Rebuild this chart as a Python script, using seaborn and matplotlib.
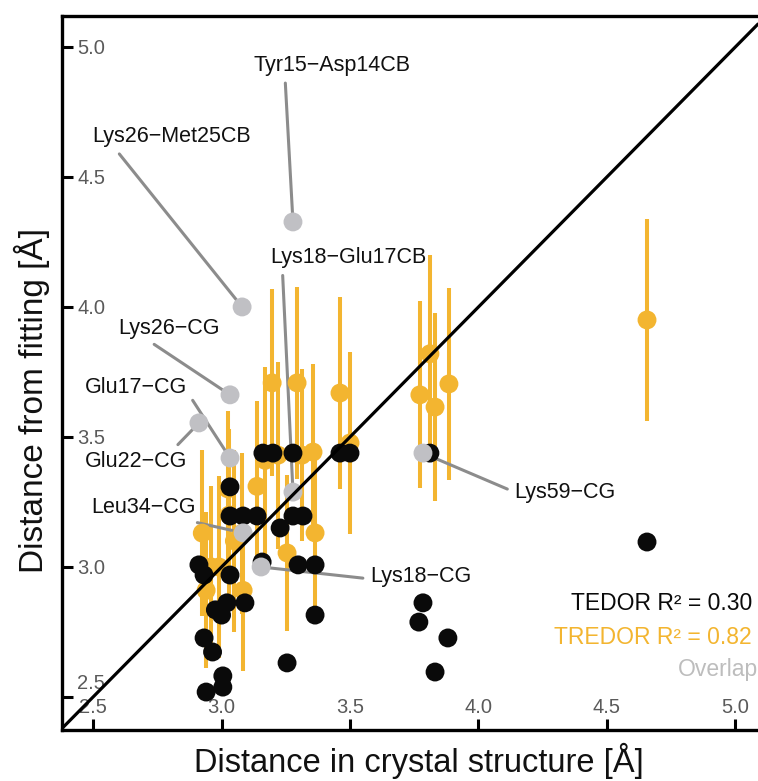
import numpy as np
import pandas as pd
import matplotlib
matplotlib.use("Agg")
import matplotlib.pyplot as plt
import matplotlib.transforms as mtransforms
import seaborn as sns

# ---------------- data ----------------
tedor_x = [2.912, 2.932, 3.033, 3.033, 3.033, 3.084, 3.138, 3.228, 3.278, 3.317,
           3.161, 3.200, 3.278, 3.461, 3.500, 3.298, 3.364, 3.364, 2.976, 3.000,
           3.021, 3.091, 2.932, 2.965, 3.255, 3.005, 3.005, 2.940, 3.784, 3.768,
           3.881, 3.831, 4.656, 3.811, 3.158]
tedor_y = [3.008, 2.969, 2.969, 3.308, 3.196, 3.196, 3.196, 3.150, 3.196, 3.196,
           3.438, 3.438, 3.438, 3.438, 3.438, 3.008, 3.008, 2.815, 2.835, 2.815,
           2.862, 2.862, 2.727, 2.673, 2.631, 2.581, 2.538, 2.519, 2.862, 2.788,
           2.727, 2.596, 3.096, 3.438, 3.019]

tredor_x = [3.772, 3.811, 3.831, 3.885, 4.656,
            3.138, 3.170, 3.197, 3.220, 3.294, 3.313, 3.356, 3.461, 3.500, 3.025,
            3.255, 3.364, 3.084, 3.080, 2.925, 2.940, 2.960, 2.990, 3.030, 3.050]
tredor_y = [3.662, 3.820, 3.615, 3.704, 3.950,
            3.310, 3.410, 3.708, 3.430, 3.708, 3.430, 3.442, 3.669, 3.477, 3.300,
            3.054, 3.131, 2.910, 3.130, 3.130, 2.910, 3.000, 3.000, 3.200, 3.100]
tredor_err = [0.36, 0.38, 0.36, 0.37, 0.39,
              0.33, 0.36, 0.36, 0.36, 0.37, 0.33, 0.34, 0.37, 0.35, 0.30,
              0.30, 0.29, 0.31, 0.31, 0.32, 0.30, 0.31, 0.35, 0.33, 0.35]

overlap_labels = ["Tyr15\u2212Asp14CB", "Lys26\u2212Met25CB", "Lys26\u2212CG",
                  "Glu17\u2212CG", "Glu22\u2212CG", "Leu34\u2212CG",
                  "Lys18\u2212Glu17CB", "Lys18\u2212CG", "Lys59\u2212CG"]
overlap_x = [3.278, 3.080, 3.033, 3.033, 2.912, 3.084, 3.278, 3.154, 3.784]
overlap_y = [4.327, 4.000, 3.662, 3.419, 3.554, 3.131, 3.288, 3.000, 3.438]

r2_tedor = 0.30
r2_tredor = 0.82

xticks = [2.5, 3.0, 3.5, 4.0, 4.5, 5.0]
yticks = [2.5, 3.0, 3.5, 4.0, 4.5, 5.0]

# ---------------- layout / style ----------------
label_pos = [(3.430, 4.930), (2.804, 4.654), (2.796, 3.918), (2.667, 3.690),
             (2.667, 3.406), (2.695, 3.227), (3.492, 4.190), (3.776, 2.962),
             (4.337, 3.288)]
label_rel = [(0.20, 0.0), (0.14, 0.0), (0.27, 0.0), (1.0, 0.3), (0.85, 1.0),
             (0.84, 0.0), (0.08, 0.0), (0.0, 0.4), (0.0, 0.5)]

ORANGE = "#F3B530"
BLACK = "#0a0a0a"
GRAY = "#C0C0C4"
LINEGRAY = "#8C8C8C"

sns.set_style("ticks")
plt.rcParams["font.family"] = ["Liberation Sans", "DejaVu Sans"]

fig = plt.figure(figsize=(7.58, 7.81), dpi=100)
ax = fig.add_axes([62 / 758, 51 / 781, 696 / 758, 714 / 781])

ax.errorbar(tredor_x, tredor_y, yerr=tredor_err, fmt="none", ecolor=ORANGE,
            elinewidth=2.9, capsize=0, zorder=2)

df = pd.concat([
    pd.DataFrame({"x": tredor_x, "y": tredor_y, "series": "TREDOR"}),
    pd.DataFrame({"x": tedor_x, "y": tedor_y, "series": "TEDOR"}),
    pd.DataFrame({"x": overlap_x, "y": overlap_y, "series": "Overlap"}),
], ignore_index=True)

sns.scatterplot(data=df, x="x", y="y", hue="series",
                palette={"TREDOR": ORANGE, "TEDOR": BLACK, "Overlap": GRAY},
                s=185, linewidth=0, legend=False, ax=ax, zorder=3)

ax.axline((2.5, 2.5), slope=1, color="black", lw=2.3, zorder=4)

for lab, px, py, tp, rp in zip(overlap_labels, overlap_x, overlap_y, label_pos, label_rel):
    ax.annotate(lab, xy=(px, py), xytext=tp, textcoords="data",
                ha="center", va="center", fontsize=15.5, color="#111111",
                arrowprops=dict(arrowstyle="-", color=LINEGRAY, lw=2.2,
                                shrinkA=3, shrinkB=0, relpos=rp),
                zorder=2.7)

ax.text(5.064, 2.858, f"TEDOR R\u00b2 = {r2_tedor:.2f}", ha="right", va="center",
        fontsize=16.5, color=BLACK, zorder=5)
ax.text(5.064, 2.727, f"TREDOR R\u00b2 = {r2_tredor:.2f}", ha="right", va="center",
        fontsize=16.5, color=ORANGE, zorder=5)
ax.text(5.088, 2.604, "Overlap", ha="right", va="center",
        fontsize=16.5, color="#BDBDBD", zorder=5)

ax.set_xlim(2.379, 5.088)
ax.set_ylim(2.373, 5.119)
ax.set_xticks(xticks)
ax.set_yticks(yticks)
ax.set_xticklabels([f"{v:.1f}" for v in xticks])
ax.set_yticklabels([f"{v:.1f}" for v in yticks])

ax.spines["right"].set_visible(False)
for s in ["left", "top", "bottom"]:
    ax.spines[s].set_linewidth(2.4)
    ax.spines[s].set_color("black")

ax.tick_params(axis="both", direction="in", length=8, width=2.2, color="black",
               labelsize=14.5, labelcolor="#5a5a5a")
ax.tick_params(axis="x", pad=-16)
ax.tick_params(axis="y", pad=-11)
for t in ax.get_xticklabels():
    t.set_va("center")
for t in ax.get_yticklabels():
    t.set_ha("left")
yl = ax.get_yticklabels()[0]
yl.set_transform(yl.get_transform() +
                 mtransforms.ScaledTranslation(0, 0.15, fig.dpi_scale_trans))

ax.set_xlabel("Distance in crystal structure [\u00c5]", fontsize=23.5, color="#111111")
ax.set_ylabel("Distance from fitting [\u00c5]", fontsize=24, color="#111111")
ax.xaxis.set_label_coords(0.513, -0.018)
ax.yaxis.set_label_coords(-0.017, 0.461)

fig.savefig("out.png", dpi=100)
